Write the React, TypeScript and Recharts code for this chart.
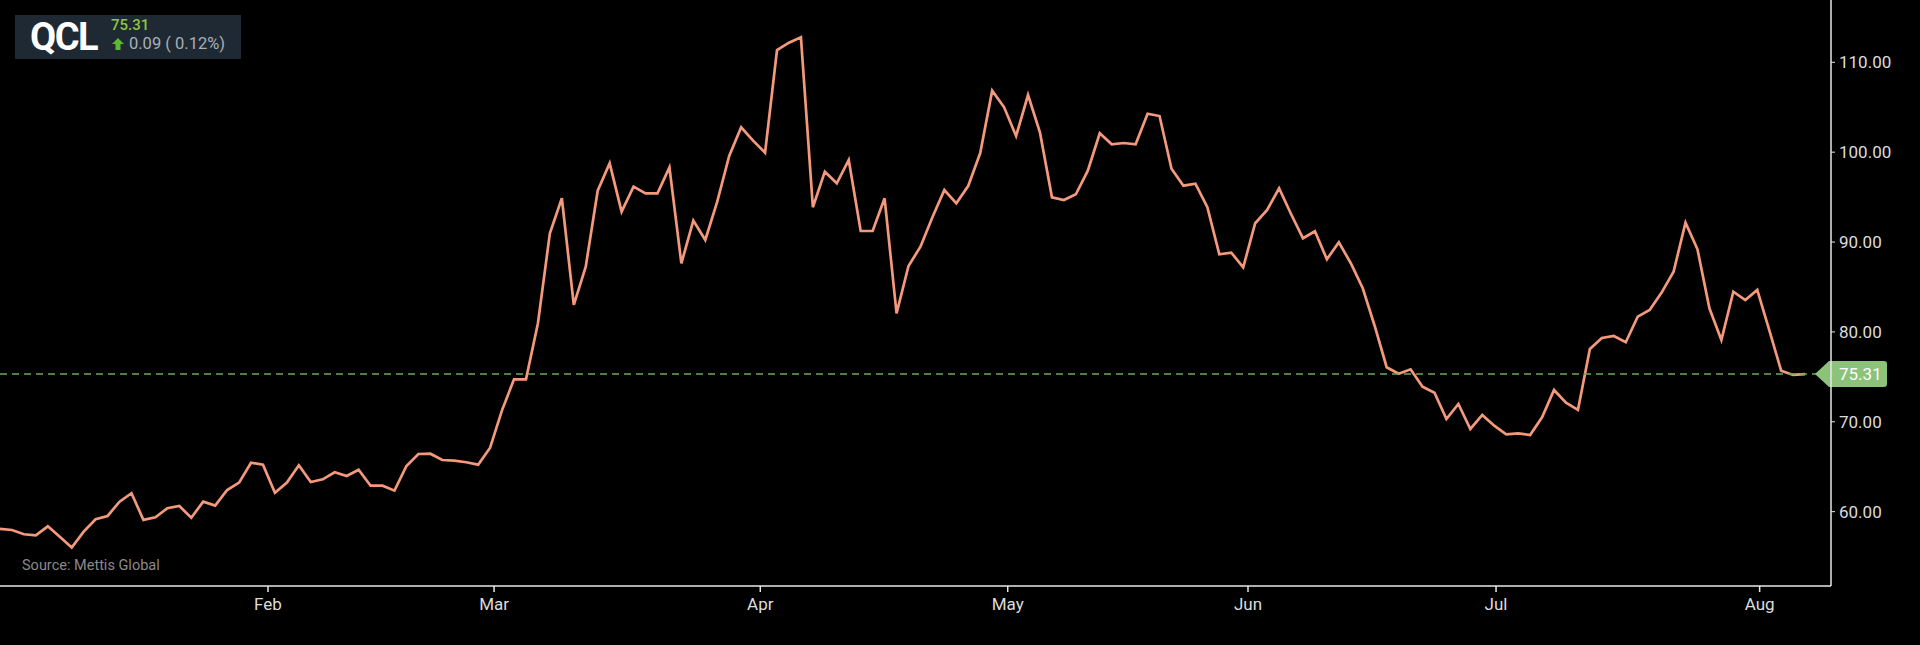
import React from "react";
import { LineChart, Line, XAxis, YAxis, ReferenceLine } from "recharts";

const symbol = "QCL";
const lastPrice = 75.31;
const changeAbs = "0.09";
const changePct = "0.12%";
const sourceText = "Source: Mettis Global";

const prices = [
  58.08, 57.96, 57.49, 57.37, 58.37, 57.2, 56.0, 57.78, 59.15, 59.52,
  61.11, 62.05, 59.08, 59.38, 60.38, 60.63, 59.33, 61.11, 60.67, 62.41,
  63.23, 65.45, 65.23, 62.11, 63.23, 65.16, 63.3, 63.6, 64.38, 63.97,
  64.67, 62.89, 62.89, 62.34, 65.08, 66.42, 66.45, 65.75, 65.67, 65.5,
  65.23, 67.12, 71.3, 74.73, 74.73, 80.96, 90.97, 94.87, 83.0, 87.26,
  95.71, 98.76, 93.38, 96.16, 95.42, 95.42, 98.3, 87.63, 92.38, 90.23,
  94.49, 99.58, 102.77, 101.28, 99.94, 111.37, 112.18, 112.78, 93.87, 97.83,
  96.54, 99.13, 91.23, 91.23, 94.87, 82.07, 87.34, 89.48, 92.75, 95.79,
  94.31, 96.26, 99.9, 106.84, 104.99, 101.8, 106.36, 102.17, 94.98, 94.68,
  95.31, 97.94, 102.1, 100.87, 101.02, 100.87, 104.28, 104.02, 98.16, 96.27,
  96.49, 93.87, 88.64, 88.82, 87.19, 92.09, 93.57, 95.98, 93.12, 90.42,
  91.2, 88.08, 89.97, 87.64, 84.86, 80.66, 76.07, 75.35, 75.84, 73.9,
  73.24, 70.31, 71.98, 69.2, 70.76, 69.57, 68.61, 68.72, 68.53, 70.5,
  73.54, 72.13, 71.32, 78.1, 79.33, 79.55, 78.85, 81.7, 82.44, 84.37,
  86.7, 92.15, 89.19, 82.63, 79.1, 84.48, 83.55, 84.67, 80.22, 75.69,
  75.21, 75.31,
];

const monthLabels = ["Feb", "Mar", "Apr", "May", "Jun", "Jul", "Aug"];
const monthTickPositions = [22.42, 41.33, 63.6, 84.3, 104.4, 125.15, 147.2];
const yTicks = [60, 70, 80, 90, 100, 110];

const data = prices.map((p, i) => ({ i, p }));

const FONT = "Roboto, 'Noto Sans', sans-serif";

const PriceTag = (props: any) => {
  const vb = props.viewBox || {};
  const x = (vb.x ?? 0) + (vb.width ?? 0);
  const y = vb.y ?? 0;
  const d = `M ${x - 16} ${y} L ${x - 2} ${y - 13} L ${x + 53} ${y - 13} Q ${x + 56} ${y - 13} ${x + 56} ${y - 10} L ${x + 56} ${y + 10} Q ${x + 56} ${y + 13} ${x + 53} ${y + 13} L ${x - 2} ${y + 13} Z`;
  return (
    <g>
      <path d={d} fill="#8cc27a" />
      <text
        x={x + 8}
        y={y}
        dy="0.36em"
        fill="#ffffff"
        fontSize={17}
        fontFamily={FONT}
      >
        {lastPrice.toFixed(2)}
      </text>
    </g>
  );
};

export default function App() {
  const monthName = (v: number) => {
    const k = monthTickPositions.indexOf(v);
    return k >= 0 ? monthLabels[k] : "";
  };
  return (
    <div
      style={{
        position: "relative",
        width: 1920,
        height: 645,
        background: "#000",
        fontFamily: FONT,
        overflow: "hidden",
      }}
    >
      <style>{"body{margin:0;background:#000}"}</style>
      <LineChart
        width={1920}
        height={645}
        data={data}
        margin={{ top: 0, right: 0, bottom: 0, left: 0 }}
      >
        <XAxis
          dataKey="i"
          type="number"
          domain={[0, 153.17]}
          ticks={monthTickPositions}
          tickFormatter={monthName}
          allowDataOverflow
          height={59}
          axisLine={{ stroke: "#e8e8e8", strokeWidth: 1.5 }}
          tickLine={{ stroke: "#e8e8e8", strokeWidth: 1.5 }}
          tickSize={6}
          tickMargin={6}
          tick={{ fill: "#dcdcdc", fontSize: 17, fontFamily: FONT }}
        />
        <YAxis
          orientation="right"
          type="number"
          domain={[51.73, 116.93]}
          ticks={yTicks}
          allowDataOverflow
          width={89}
          tickFormatter={(v: number) => v.toFixed(2)}
          axisLine={{ stroke: "#e8e8e8", strokeWidth: 1.5 }}
          tickLine={{ stroke: "#e8e8e8", strokeWidth: 1 }}
          tickSize={4}
          tickMargin={4}
          tick={{ fill: "#dcdcdc", fontSize: 17, fontFamily: FONT }}
        />
        <Line
          type="linear"
          dataKey="p"
          stroke="#f4997c"
          strokeWidth={2.7}
          dot={false}
          activeDot={false}
          isAnimationActive={false}
        />
        <ReferenceLine
          y={lastPrice}
          stroke="#6fa85c"
          strokeWidth={1.5}
          strokeDasharray="7 5"
          label={<PriceTag />}
        />
      </LineChart>
      <div
        style={{
          position: "absolute",
          left: 15,
          top: 15,
          width: 226,
          height: 44,
          background: "#1e2934",
        }}
      >
        <div
          style={{
            position: "absolute",
            left: 15,
            top: 0,
            color: "#ffffff",
            fontWeight: 700,
            fontSize: 38,
            letterSpacing: -1.5,
            lineHeight: "44px",
            fontFamily: FONT,
          }}
        >
          {symbol}
        </div>
        <div
          style={{
            position: "absolute",
            left: 96,
            top: 1,
            color: "#8dc63f",
            fontWeight: 500,
            fontSize: 15,
            lineHeight: "18px",
            fontFamily: FONT,
          }}
        >
          {lastPrice.toFixed(2)}
        </div>
        <div
          style={{
            position: "absolute",
            left: 97,
            top: 19,
            color: "#a9afb5",
            fontSize: 16.5,
            lineHeight: "20px",
            fontFamily: FONT,
            display: "flex",
            alignItems: "center",
          }}
        >
          <svg width="12" height="12" viewBox="0 0 12 12" style={{ marginRight: 5 }}>
            <path d="M6 0 L12 6 L8.5 6 L8.5 12 L3.5 12 L3.5 6 L0 6 Z" fill="#5db832" />
          </svg>
          <span>{`${changeAbs} ( ${changePct})`}</span>
        </div>
      </div>
      <div
        style={{
          position: "absolute",
          left: 22,
          top: 557,
          color: "#8a8a8a",
          fontSize: 14.5,
          fontFamily: FONT,
          lineHeight: "17px",
        }}
      >
        {sourceText}
      </div>
    </div>
  );
}
